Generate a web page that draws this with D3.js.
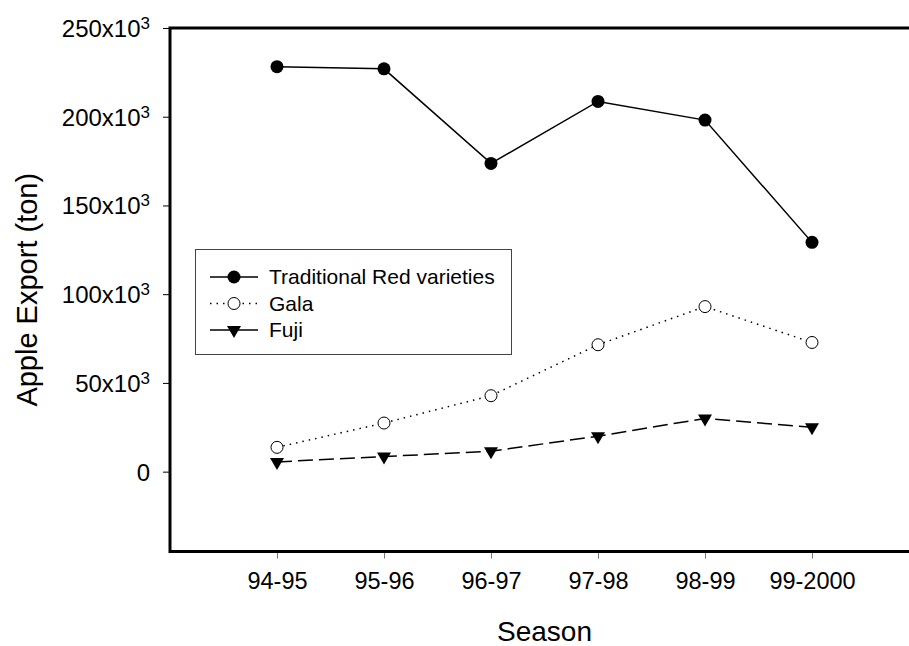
<!DOCTYPE html>
<meta charset="utf-8">
<style>
  body { margin: 0; background: white; }
  svg text { font-family: "Liberation Sans", Arial, sans-serif; fill: black; }
</style>
<body>
<div id="chart"></div>
<script src="https://d3js.org/d3.v7.min.js"></script>
<script>
  var seasons = ["94-95", "95-96", "96-97", "97-98", "98-99", "99-2000"];
  var tradRed = [228200, 227000, 173700, 208600, 198100, 129200];
  var gala = [13700, 27400, 42800, 71500, 93000, 72800];
  var fuji = [5500, 8500, 11500, 20000, 30000, 25000];
  var yTicks = [0, 50000, 100000, 150000, 200000, 250000];

  var width = 909, height = 646;
  var plotLeft = 170, plotRight = 919, plotTop = 28, plotBottom = 551.5;

  var svg = d3.select("#chart").append("svg")
    .attr("width", width)
    .attr("height", height);

  var x = d3.scalePoint().domain(seasons).range([plotLeft, plotRight]).padding(1);
  var y = d3.scaleLinear().domain([-45000, 250000]).range([plotBottom, plotTop]);

  // y axis
  var yAxis = svg.append("g")
    .attr("transform", "translate(" + plotLeft + ",0)")
    .call(d3.axisLeft(y).tickValues(yTicks).tickSize(7).tickPadding(13).tickFormat(""));
  yAxis.select(".domain").remove();
  yAxis.selectAll(".tick line").attr("stroke", "black");
  yAxis.selectAll(".tick text")
    .style("font-size", "24px")
    .attr("dy", "0.35em")
    .each(function(d) {
      var t = d3.select(this);
      if (d === 0) { t.text("0"); return; }
      t.append("tspan").text((d / 1000) + "x10");
      t.append("tspan").text("3").style("font-size", "17px").attr("dy", "-8");
    });

  // x axis
  var xAxis = svg.append("g")
    .attr("transform", "translate(0," + plotBottom + ")")
    .call(d3.axisBottom(x).tickSize(7).tickPadding(14));
  xAxis.select(".domain").remove();
  xAxis.selectAll(".tick line").attr("stroke", "#777");
  xAxis.selectAll(".tick text").style("font-size", "23.5px").attr("dy", "0.71em");

  // frame
  svg.append("path")
    .attr("d", "M" + plotRight + "," + plotTop + "H" + plotLeft + "V" + plotBottom + "H" + plotRight)
    .attr("stroke", "black").attr("stroke-width", 3).attr("fill", "none");

  // titles
  svg.append("text")
    .attr("x", (plotLeft + plotRight) / 2)
    .attr("y", 641)
    .attr("text-anchor", "middle")
    .style("font-size", "28px")
    .text("Season");

  svg.append("text")
    .attr("transform", "translate(37," + (plotTop + plotBottom) / 2 + ") rotate(-90)")
    .attr("text-anchor", "middle")
    .style("font-size", "29px")
    .text("Apple Export (ton)");

  var line = d3.line()
    .x(function(d, i) { return x(seasons[i]); })
    .y(function(d) { return y(d); });

  var series = [
    { name: "Traditional Red varieties", values: tradRed, dash: null, marker: "filled" },
    { name: "Gala", values: gala, dash: "1.5,5", marker: "open" },
    { name: "Fuji", values: fuji, dash: "15,6", marker: "tri" }
  ];

  function drawMarker(g, type, cx, cy) {
    if (type === "filled") {
      g.append("circle").attr("cx", cx).attr("cy", cy).attr("r", 6.5).attr("fill", "black");
    } else if (type === "open") {
      g.append("circle").attr("cx", cx).attr("cy", cy).attr("r", 6)
        .attr("fill", "white").attr("stroke", "black").attr("stroke-width", 1);
    } else {
      g.append("path")
        .attr("d", "M" + (cx - 7) + "," + (cy - 4) + "L" + (cx + 7) + "," + (cy - 4) + "L" + cx + "," + (cy + 8) + "Z")
        .attr("fill", "black");
    }
  }

  series.forEach(function(s) {
    svg.append("path")
      .datum(s.values)
      .attr("d", line)
      .attr("fill", "none")
      .attr("stroke", "black")
      .attr("stroke-width", 1.5)
      .attr("stroke-dasharray", s.dash);
    var g = svg.append("g");
    s.values.forEach(function(v, i) {
      drawMarker(g, s.marker, x(seasons[i]), y(v));
    });
  });

  // legend
  var legend = svg.append("g");
  legend.append("rect")
    .attr("x", 195.5).attr("y", 249.5).attr("width", 316).attr("height", 105)
    .attr("fill", "white").attr("stroke", "#444").attr("stroke-width", 1);

  series.forEach(function(s, i) {
    var ly = 277 + i * 26.5;
    legend.append("line")
      .attr("x1", 210).attr("x2", 258).attr("y1", ly).attr("y2", ly)
      .attr("stroke", "black").attr("stroke-width", 1.5)
      .attr("stroke-dasharray", s.marker === "open" ? s.dash : null);
    drawMarker(legend, s.marker, 234, ly);
    legend.append("text")
      .attr("x", 269).attr("y", ly).attr("dy", "0.35em")
      .style("font-size", "21px")
      .text(s.name);
  });
</script>
</body>
